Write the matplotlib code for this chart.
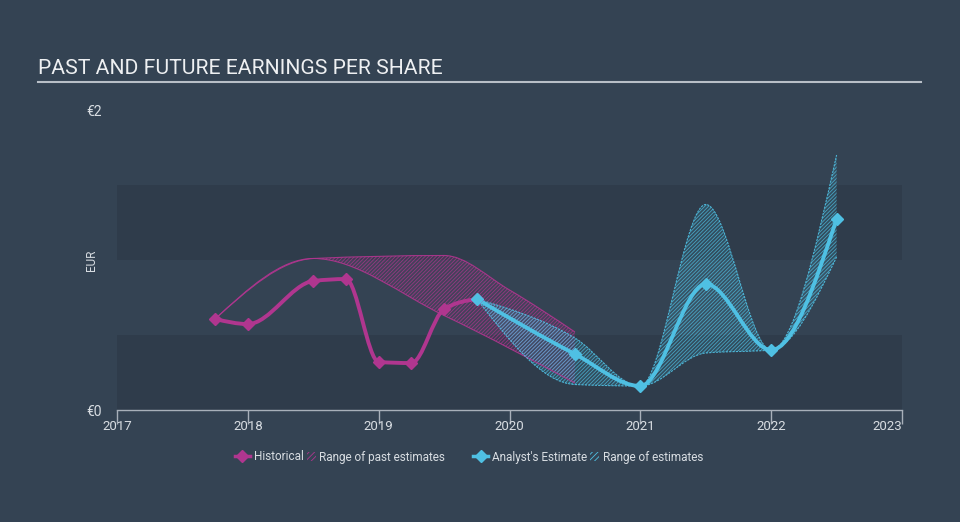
import matplotlib

matplotlib.use('Agg')
import numpy as np
import matplotlib.pyplot as plt
from matplotlib.path import Path
from matplotlib.patches import PathPatch, Patch, Rectangle
from matplotlib.lines import Line2D
from matplotlib.legend_handler import HandlerPatch

plt.rcParams['font.family'] = ['Roboto', 'DejaVu Sans']
plt.rcParams['hatch.linewidth'] = 0.6

# data
hist_x = [2017.75, 2018.0, 2018.5, 2018.75, 2019.0, 2019.25, 2019.5, 2019.75]
hist_y = [0.607, 0.573, 0.86, 0.873, 0.32, 0.313, 0.673, 0.74]

past_hi_x = [2017.75, 2018.5, 2019.5, 2020.0, 2020.5]
past_hi_y = [0.607, 1.01, 1.03, 0.80, 0.52]
past_lo_x = [2017.75, 2018.5, 2019.5, 2020.5]
past_lo_y = [0.607, 1.01, 0.63, 0.18]

est_x = [2019.75, 2020.5, 2021.0, 2021.5, 2022.0, 2022.5]
est_y = [0.74, 0.373, 0.16, 0.84, 0.40, 1.273]
est_hi_y = [0.74, 0.48, 0.16, 1.37, 0.40, 1.70]
est_lo_y = [0.74, 0.17, 0.16, 0.38, 0.40, 1.02]

years = [2017, 2018, 2019, 2020, 2021, 2022, 2023]

BG = '#344353'
BAND = '#2f3c4b'
PINK = '#b0368f'
BLUE = '#4fc0e3'
TXT = '#d8dde2'


def mono_verts(x, y):
    # bezier control points like d3 curveMonotoneX
    x = np.asarray(x, float)
    y = np.asarray(y, float)
    n = len(x)
    h = np.diff(x)
    s = np.diff(y) / h
    t = np.zeros(n)
    for i in range(1, n - 1):
        p = (s[i - 1] * h[i] + s[i] * h[i - 1]) / (h[i - 1] + h[i])
        t[i] = (np.sign(s[i - 1]) + np.sign(s[i])) * min(abs(s[i - 1]), abs(s[i]), 0.5 * abs(p))
    if n > 2:
        t[0] = (3 * s[0] - t[1]) / 2
        t[-1] = (3 * s[-1] - t[-2]) / 2
    else:
        t[0] = t[-1] = s[0]
    verts = [(x[0], y[0])]
    for i in range(n - 1):
        dx = h[i] / 3
        verts += [(x[i] + dx, y[i] + dx * t[i]), (x[i + 1] - dx, y[i + 1] - dx * t[i + 1]), (x[i + 1], y[i + 1])]
    return verts


def curve(x, y):
    v = mono_verts(x, y)
    return Path(v, [Path.MOVETO] + [Path.CURVE4] * (len(v) - 1))


def band(xh, yh, xl, yl):
    up = mono_verts(xh, yh)
    lo = mono_verts(xl, yl)[::-1]
    v = up + lo + [up[0]]
    codes = [Path.MOVETO] + [Path.CURVE4] * (len(up) - 1) + [Path.LINETO] + [Path.CURVE4] * (len(lo) - 1) + [Path.CLOSEPOLY]
    return Path(v, codes)


def small_patch(legend, orig_handle, xdescent, ydescent, width, height, fontsize):
    w = height * 1.1
    return Rectangle((width - w - xdescent, -ydescent), w, height)


fig = plt.figure(figsize=(9.6, 5.22), dpi=100, facecolor=BG)
ax = fig.add_axes([117 / 960, 1 - 410 / 522, 785 / 960, 300 / 522])
ax.set_facecolor(BG)
ax.set_xlim(2017, 2023)
ax.set_ylim(0, 2)
ax.axhspan(0, 0.5, color=BAND, lw=0, zorder=0)
ax.axhspan(1.0, 1.5, color=BAND, lw=0, zorder=0)

# ranges
ax.add_patch(PathPatch(band(past_hi_x, past_hi_y, past_lo_x, past_lo_y), facecolor=PINK, alpha=0.12, lw=0, zorder=1))
ax.add_patch(PathPatch(band(past_hi_x, past_hi_y, past_lo_x, past_lo_y), facecolor='none', edgecolor=PINK, hatch='/' * 9, lw=0, alpha=0.75, zorder=1))
ax.add_patch(PathPatch(curve(past_hi_x, past_hi_y), fill=False, edgecolor=PINK, lw=0.8, alpha=0.9, zorder=2))
ax.add_patch(PathPatch(curve(past_lo_x, past_lo_y), fill=False, edgecolor=PINK, lw=0.8, alpha=0.9, zorder=2))

ax.add_patch(PathPatch(band(est_x, est_hi_y, est_x, est_lo_y), facecolor=BLUE, alpha=0.12, lw=0, zorder=1))
ax.add_patch(PathPatch(band(est_x, est_hi_y, est_x, est_lo_y), facecolor='none', edgecolor=BLUE, hatch='/' * 9, lw=0, alpha=0.75, zorder=1))
ax.add_patch(PathPatch(curve(est_x, est_hi_y), fill=False, edgecolor=BLUE, lw=0.8, ls=(0, (2, 1)), alpha=0.9, zorder=2))
ax.add_patch(PathPatch(curve(est_x, est_lo_y), fill=False, edgecolor=BLUE, lw=0.8, ls=(0, (2, 1)), alpha=0.9, zorder=2))

# main lines
ax.add_patch(PathPatch(curve(hist_x, hist_y), fill=False, edgecolor=PINK, lw=2.8, capstyle='round', zorder=3))
ax.plot(hist_x, hist_y, 'D', color=PINK, ms=6, zorder=4)
ax.add_patch(PathPatch(curve(est_x, est_y), fill=False, edgecolor=BLUE, lw=2.8, capstyle='round', zorder=3))
ax.plot(est_x, est_y, 'D', color=BLUE, ms=6, zorder=4)

for s in ['top', 'right', 'left']:
    ax.spines[s].set_visible(False)
ax.spines['bottom'].set_color('#a8b0ba')
ax.spines['bottom'].set_linewidth(1)
ax.set_xticks(years)
ax.set_xticklabels([str(y) for y in years], color=TXT, fontsize=9.5)
ax.get_xticklabels()[-1].set_ha('right')
ax.tick_params(axis='x', length=10, width=1, color='#a8b0ba', pad=-3, direction='out')
ax.set_yticks([0, 2])
ax.set_yticklabels(['€0', '€2'], color=TXT, fontsize=10)
ax.tick_params(axis='y', length=0, pad=11)

fig.text(92 / 960, 1 - 260 / 522, 'EUR', rotation=90, color=TXT, fontsize=8.5, ha='center', va='center')

fig.text(38 / 960, 1 - 68 / 522, 'PAST AND FUTURE EARNINGS PER SHARE', color='#eef0f2', fontsize=15.2, va='center', ha='left')
fig.add_artist(Line2D([38 / 960, 921 / 960], [1 - 82 / 522, 1 - 82 / 522], color='#b8bfc7', lw=1.5))

# legend
hmap = {Patch: HandlerPatch(patch_func=small_patch)}
h1 = [Line2D([0], [0], color=PINK, lw=2.5, marker='D', ms=6),
      Patch(facecolor='none', edgecolor=PINK, hatch='/' * 6, lw=0)]
h2 = [Line2D([0], [0], color=BLUE, lw=2.5, marker='D', ms=6),
      Patch(facecolor='none', edgecolor=BLUE, hatch='/' * 6, lw=0)]
fig.legend(h1, ['Historical', 'Range of past estimates'], ncol=2, loc='center', bbox_to_anchor=(340 / 960, 1 - 457 / 522),
           frameon=False, fontsize=8.5, labelcolor=TXT, handlelength=1.3, handletextpad=0.3, columnspacing=-0.25,
           handler_map=hmap)
fig.legend(h2, ["Analyst's Estimate", 'Range of estimates'], ncol=2, loc='center', bbox_to_anchor=(588 / 960, 1 - 457 / 522),
           frameon=False, fontsize=8.5, labelcolor=TXT, handlelength=1.3, handletextpad=0.3, columnspacing=-0.25,
           handler_map=hmap)

plt.savefig('out.png', dpi=100, facecolor=BG)
